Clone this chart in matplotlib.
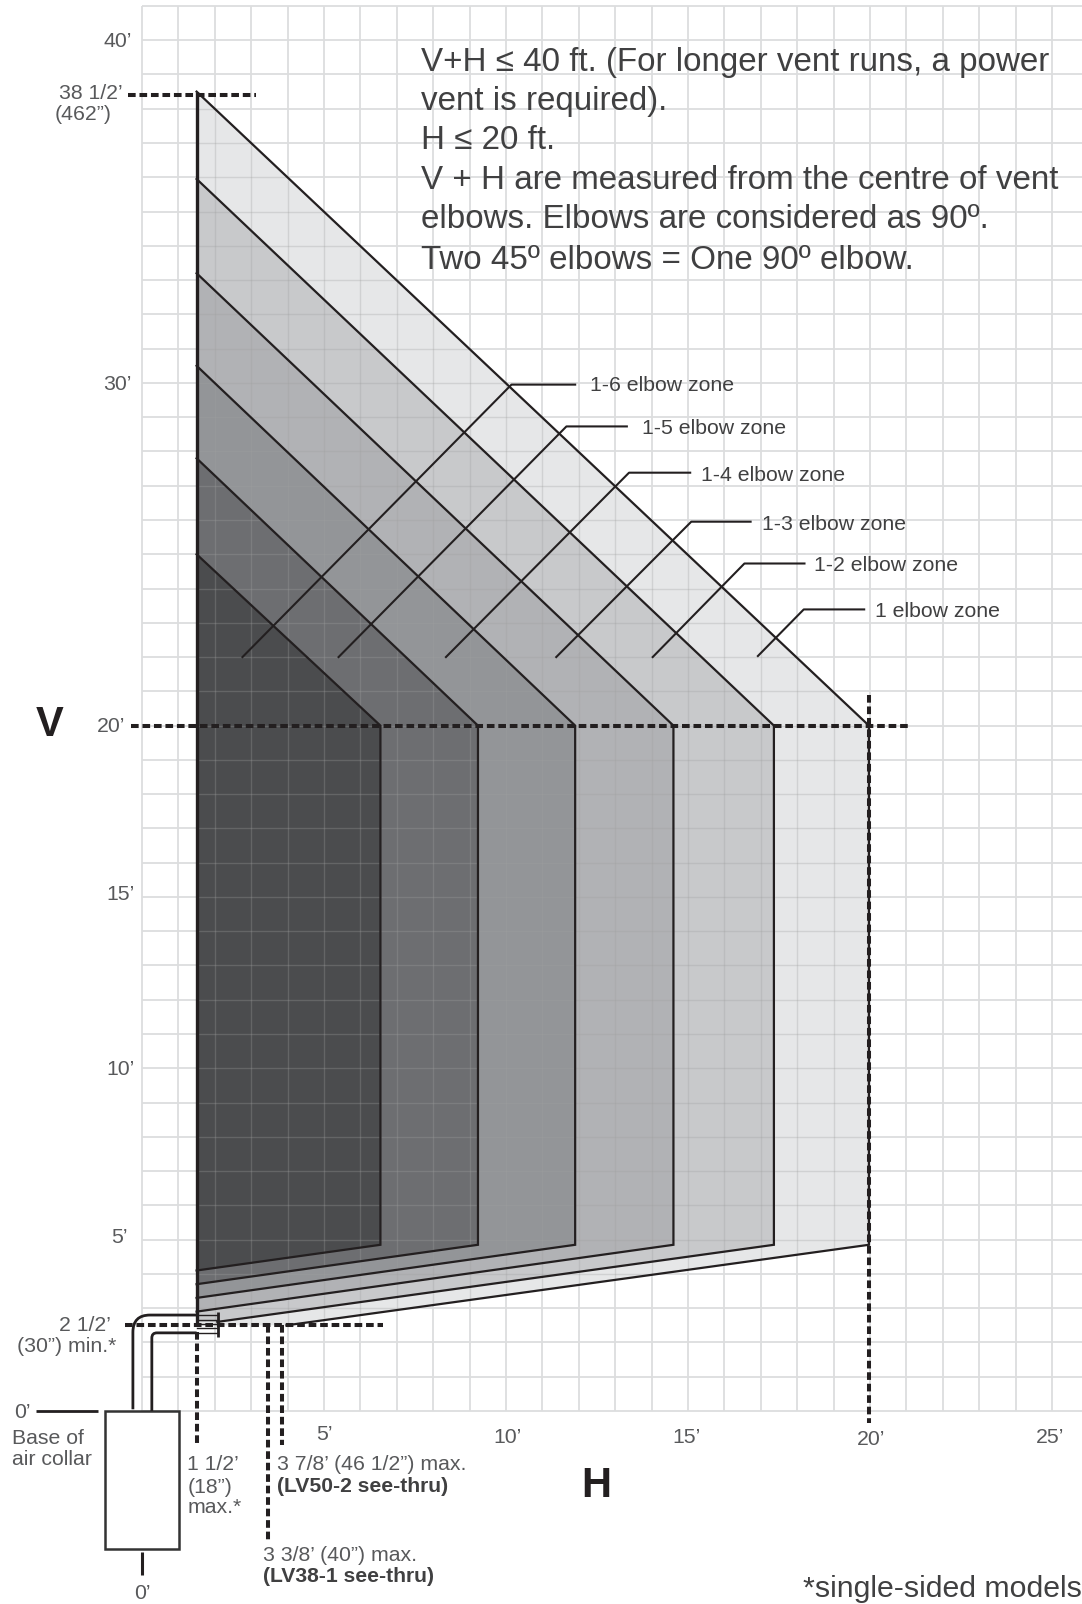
import matplotlib
matplotlib.use("Agg")
import matplotlib.pyplot as plt
from matplotlib.patches import PathPatch, Polygon, Rectangle
from matplotlib.path import Path
import numpy as np

plt.rcParams['font.family'] = ['Liberation Sans', 'DejaVu Sans']

# Zone outlines in feet, widest zone first
zone_h_max = [19.97, 17.36, 14.6, 11.9, 9.23, 6.55]
zone_v_top = [38.5, 35.95, 33.2, 30.5, 27.8, 25.0]
zone_base_h = [3.97, 2.07, 1.5, 1.5, 1.5, 1.5]
zone_base_v = [2.5, 2.6, 2.9, 3.3, 3.7, 4.1]
zone_colors = ['#e6e7e8', '#c8c9cb', '#b1b2b5', '#939598', '#6d6e71', '#4b4c4e']
corner_v = 20.0
right_base_v = 4.85
left_h = 1.5

# Leader lines: start (h, v), elbow (h, v), end h
zone_labels = ['1 elbow zone', '1-2 elbow zone', '1-3 elbow zone',
               '1-4 elbow zone', '1-5 elbow zone', '1-6 elbow zone']
leader_h0 = [16.92, 14.03, 11.38, 8.35, 5.4, 2.76]
leader_v0 = [22.03, 22.0, 22.0, 22.0, 22.0, 22.0]
leader_h1 = [18.18, 16.55, 15.09, 13.38, 11.66, 10.15]
leader_v1 = [23.39, 24.73, 25.95, 27.38, 28.73, 29.95]
leader_h2 = [19.84, 18.2, 16.72, 15.06, 13.32, 11.9]
label_h = [20.15, 18.46, 17.03, 15.37, 13.75, 12.32]
label_v = [23.33, 24.67, 25.87, 27.29, 28.67, 29.92]

h_tick_labels = ['5’', '10’', '15’', '20’', '25’']
h_tick_x = [5.0, 10.03, 14.95, 20.03, 24.95]
h_tick_y = [-0.68, -0.76, -0.76, -0.82, -0.76]
v_tick_labels = ['40’', '30’', '20’', '15’', '10’', '5’']
v_tick_x = [-0.66, -0.69, -0.85, -0.6, -0.6, -0.63]
v_tick_y = [39.96, 29.95, 19.97, 15.06, 9.96, 5.06]

notes = ['V+H ≤ 40 ft. (For longer vent runs, a power',
         'vent is required).',
         'H ≤ 20 ft.',
         'V + H are measured from the centre of vent',
         'elbows. Elbows are considered as 90º.',
         'Two 45º elbows = One 90º elbow.']
notes_y = [39.35, 38.22, 37.06, 35.91, 34.76, 33.58]

INK = '#231f20'
TXT = '#58595b'

fig = plt.figure(figsize=(10.82, 16.04), dpi=100)
ax = fig.add_axes([0, 0, 1, 1])
ax.set_xlim(-142 / 36.4, 940 / 36.4)
ax.set_ylim(-193 / 34.27, 1411 / 34.27)
ax.axis('off')

x_grid = np.arange(0, 26)
y_grid = np.arange(0, 42)
x_right = ax.get_xlim()[1]


def draw_grid(color, lw, z, alpha=1.0, clip=None):
    for x in x_grid:
        l, = ax.plot([x, x], [0, 41], color=color, lw=lw, zorder=z, alpha=alpha, solid_capstyle='butt')
        if clip is not None:
            l.set_clip_path(clip)
    for y in y_grid:
        l, = ax.plot([0, x_right], [y, y], color=color, lw=lw, zorder=z, alpha=alpha, solid_capstyle='butt')
        if clip is not None:
            l.set_clip_path(clip)


draw_grid('#dcddde', 1.3, 1)

# Zones, widest first so the narrow ones sit on top
outer = None
for hm, vt, bh, bv, c in zip(zone_h_max, zone_v_top, zone_base_h, zone_base_v, zone_colors):
    pts = [(left_h, vt), (hm, corner_v), (hm, right_base_v), (bh, bv), (left_h, bv)]
    p = Polygon(pts, closed=True, facecolor=c, edgecolor='none', zorder=2)
    ax.add_patch(p)
    if outer is None:
        outer = p

# grid showing through the zones
draw_grid('#a0a0a0', 1.0, 3, alpha=0.3, clip=outer)

# outlines above the grid
for hm, vt, bh, bv in zip(zone_h_max, zone_v_top, zone_base_h, zone_base_v):
    ax.plot([left_h, hm, hm, bh], [vt, corner_v, right_base_v, bv], color=INK, lw=1.6, zorder=4,
            solid_joinstyle='miter')
ax.plot([left_h, left_h], [zone_v_top[0], 2.5], color=INK, lw=2.4, zorder=5, solid_capstyle='butt')

# Leaders and zone labels
for i, name in enumerate(zone_labels):
    ax.plot([leader_h0[i], leader_h1[i], leader_h2[i]], [leader_v0[i], leader_v1[i], leader_v1[i]],
            color=INK, lw=1.5, zorder=6)
    ax.text(label_h[i], label_v[i], name, fontsize=15.3, color='#404041', va='center', zorder=7)

# Dashed reference lines
dash = dict(color=INK, lw=2.9, linestyle=(0, (1.9, 0.95)), zorder=8)
ax.plot([-0.38, 3.13], [38.4, 38.4], **dash)
ax.plot([-0.3, 21.1], [20.0, 20.0], **dash)
ax.plot([-0.46, 6.62], [2.5, 2.5], **dash)
ax.plot([19.97, 19.97], [20.9, -0.35], **dash)
ax.plot([left_h, left_h], [2.3, -0.99], **dash)
ax.plot([3.47, 3.47], [2.5, -3.83], **dash)
ax.plot([3.84, 3.84], [2.5, -0.99], **dash)

# Vent pipe
pipe = dict(facecolor='none', edgecolor=INK, lw=2.0, zorder=7, capstyle='butt')
ax.add_patch(PathPatch(Path([(-0.25, 0.05), (-0.25, 2.3), (-0.25, 2.8), (0.22, 2.8), (left_h, 2.8)],
                            [Path.MOVETO, Path.LINETO, Path.CURVE3, Path.CURVE3, Path.LINETO]), **pipe))
ax.add_patch(PathPatch(Path([(0.27, 0.0), (0.27, 2.13), (0.27, 2.28), (0.41, 2.28), (left_h, 2.28)],
                            [Path.MOVETO, Path.LINETO, Path.CURVE3, Path.CURVE3, Path.LINETO]), **pipe))
for y in [2.8, 2.66, 2.54, 2.43, 2.28]:
    ax.plot([left_h, 2.09], [y, y], color=INK, lw=1.0, zorder=7)
ax.plot([2.09, 2.09], [2.89, 2.16], color=INK, lw=2.0, zorder=7, solid_capstyle='butt')

# Appliance box and its zero marks
ax.add_patch(Rectangle((-1.02, -4.03), 2.03, 4.03, facecolor='white', edgecolor='#333333', lw=1.8, zorder=6))
ax.plot([-2.91, -1.2], [0, 0], color=INK, lw=2.0, solid_capstyle='butt')
ax.plot([0, 0], [-4.11, -4.78], color=INK, lw=2.2, solid_capstyle='butt')

# Tick labels
for x, y, s in zip(h_tick_x, h_tick_y, h_tick_labels):
    ax.text(x, y, s, fontsize=15.3, color=TXT, ha='center', va='center')
for x, y, s in zip(v_tick_x, v_tick_y, v_tick_labels):
    ax.text(x, y, s, fontsize=15.3, color=TXT, ha='center', va='center')

small = dict(fontsize=15.3, color=TXT, va='center')
bold = dict(fontsize=15.2, color='#404041', va='center', fontweight='bold')
ax.text(-0.54, 38.44, '38 1/2’', ha='right', **small)
ax.text(-2.39, 37.84, '(462”)', ha='left', **small)
ax.text(-0.85, 2.5, '2 1/2’', ha='right', **small)
ax.text(-0.71, 1.88, '(30”) min.*', ha='right', **small)
ax.text(-3.5, -0.05, '0’', ha='left', **small)
ax.text(-3.57, -0.79, 'Base of', ha='left', **small)
ax.text(-3.57, -1.42, 'air collar', ha='left', **small)
ax.text(0.0, -5.33, '0’', ha='center', **small)
ax.text(1.24, -1.57, '1 1/2’', ha='left', **small)
ax.text(1.24, -2.22, '(18”)', ha='left', **small)
ax.text(1.24, -2.83, 'max.*', ha='left', **small)
ax.text(3.71, -1.57, '3 7/8’ (46 1/2”) max.', ha='left', **small)
ax.text(3.71, -2.2, '(LV50-2 see-thru)', ha='left', **bold)
ax.text(3.32, -4.23, '3 3/8’ (40”) max.', ha='left', **small)
ax.text(3.32, -4.84, '(LV38-1 see-thru)', ha='left', **bold)

ax.text(-2.54, 20.02, 'V', fontsize=30, fontweight='bold', color=INK, ha='center', va='center')
ax.text(12.47, -2.19, 'H', fontsize=30, fontweight='bold', color=INK, ha='center', va='center')

for s, y in zip(notes, notes_y):
    ax.text(7.66, y, s, fontsize=23.9, color='#404041', va='center', zorder=9)

ax.text(18.15, -5.2, '*single-sided models', fontsize=21.8, color='#404041', va='center')

fig.savefig('out.png', dpi=100)
